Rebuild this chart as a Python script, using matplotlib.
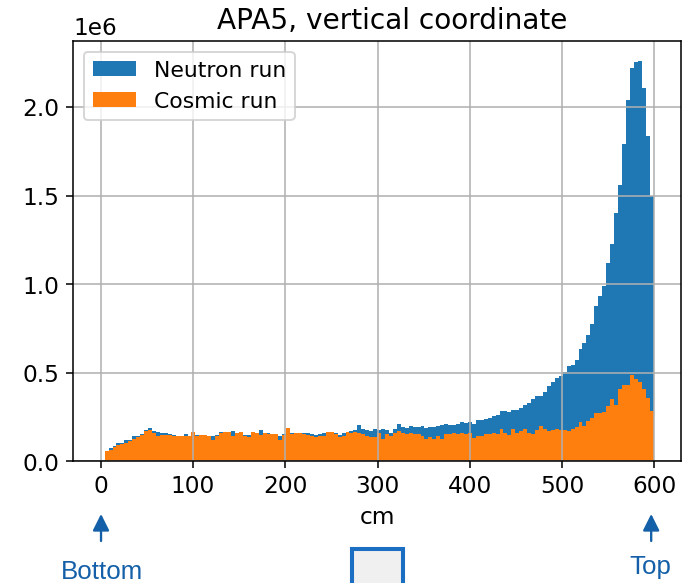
import numpy as np
import matplotlib
matplotlib.use("Agg")
import matplotlib.pyplot as plt
from matplotlib.patches import Rectangle

# ---- data (counts in thousands per 4.28 cm bin, bins from 0 to 599 cm) ----
edge_min_cm = 0.0
edge_max_cm = 599.0
n_bins = 140

neutron_k = [
    0, 57, 75, 85, 104, 107, 119, 122, 141, 145,
    154, 179, 188, 173, 168, 160, 160, 154, 151, 145,
    145, 153, 145, 168, 151, 150, 148, 141, 141, 148,
    164, 168, 162, 173, 160, 166, 151, 151, 162, 158,
    179, 158, 160, 153, 150, 145, 155, 160, 160, 158,
    160, 160, 158, 155, 151, 153, 158, 164, 164, 160,
    150, 158, 168, 173, 180, 205, 185, 175, 171, 186,
    178, 181, 175, 162, 186, 209, 194, 190, 200, 194,
    196, 200, 190, 194, 196, 200, 205, 213, 204, 208,
    213, 224, 218, 224, 209, 232, 232, 237, 247, 256,
    262, 285, 283, 278, 290, 292, 303, 320, 328, 350,
    368, 372, 392, 424, 449, 470, 480, 504, 540, 545,
    574, 634, 668, 715, 777, 875, 932, 988, 1120, 1229,
    1403, 1559, 1793, 2040, 2219, 2255, 2262, 2106, 1836, 1497,
]

cosmic_k = [
    0, 57, 64, 79, 92, 98, 107, 115, 126, 137,
    149, 173, 179, 160, 145, 150, 149, 150, 141, 145,
    145, 141, 143, 168, 141, 149, 149, 141, 122, 145,
    160, 168, 164, 145, 160, 168, 145, 136, 164, 160,
    149, 160, 155, 155, 155, 122, 150, 190, 154, 158,
    160, 156, 150, 145, 136, 142, 145, 164, 164, 155,
    139, 145, 164, 160, 164, 158, 156, 143, 138, 140,
    162, 128, 153, 143, 162, 171, 162, 153, 162, 153,
    153, 143, 124, 138, 124, 143, 124, 156, 153, 162,
    153, 162, 153, 158, 134, 143, 143, 153, 156, 162,
    155, 184, 160, 150, 184, 159, 170, 184, 160, 155,
    178, 199, 185, 170, 180, 185, 175, 175, 170, 181,
    194, 222, 203, 226, 245, 275, 272, 279, 313, 350,
    320, 407, 430, 433, 490, 465, 448, 411, 358, 283,
]

series_labels = ["Neutron run", "Cosmic run"]
title_text = "APA5, vertical coordinate"
xlabel_text = "cm"

neutron = np.array(neutron_k, dtype=float) * 1e3
cosmic = np.array(cosmic_k, dtype=float) * 1e3
edges = np.linspace(edge_min_cm, edge_max_cm, n_bins + 1)
centers = 0.5 * (edges[:-1] + edges[1:])

# ---- figure ----
plt.rcParams["font.size"] = 12
W, H, DPI = 696, 583, 139.2
fig = plt.figure(figsize=((W + 0.2) / DPI, (H + 0.2) / DPI), dpi=DPI)

def fx(px):
    return px / W

def fy(py):
    return 1 - py / H

ax = fig.add_axes([fx(73), fy(461.5), fx(681) - fx(73), fy(41) - fy(461.5)])
ax.hist(centers, bins=edges, weights=neutron, color="#1f77b4", label=series_labels[0])
ax.hist(centers, bins=edges, weights=cosmic, color="#ff7f0e", label=series_labels[1])
ax.grid(True)
ax.set_title(title_text, fontsize=14.5, x=0.525)
ax.set_xlabel(xlabel_text)
ax.legend(loc="upper left", fontsize=11.3)

# ---- annotations below the axes ----
ann_color = "#135fa8"
for x_px in (101, 651):
    ax.annotate("", xy=(fx(x_px), fy(514)), xytext=(fx(x_px), fy(541)),
                xycoords="figure fraction", textcoords="figure fraction",
                arrowprops=dict(arrowstyle="-|>", color=ann_color, lw=1.2,
                                mutation_scale=18, shrinkA=0, shrinkB=0),
                annotation_clip=False)

fig.text(fx(102), fy(579), "Bottom", ha="center", va="baseline",
         fontsize=13.4, color=ann_color, family=["Liberation Sans", "DejaVu Sans"])
fig.text(fx(650), fy(574), "Top", ha="center", va="baseline",
         fontsize=13.4, color=ann_color, family=["Liberation Sans", "DejaVu Sans"])

rect = Rectangle((fx(352), fy(600)), fx(403) - fx(352), fy(549) - fy(600),
                 transform=fig.transFigure, facecolor="#f0f0f0",
                 edgecolor="#1b6ec2", linewidth=2.1, clip_on=False)
fig.patches.append(rect)

fig.savefig("out.png", dpi=DPI)
